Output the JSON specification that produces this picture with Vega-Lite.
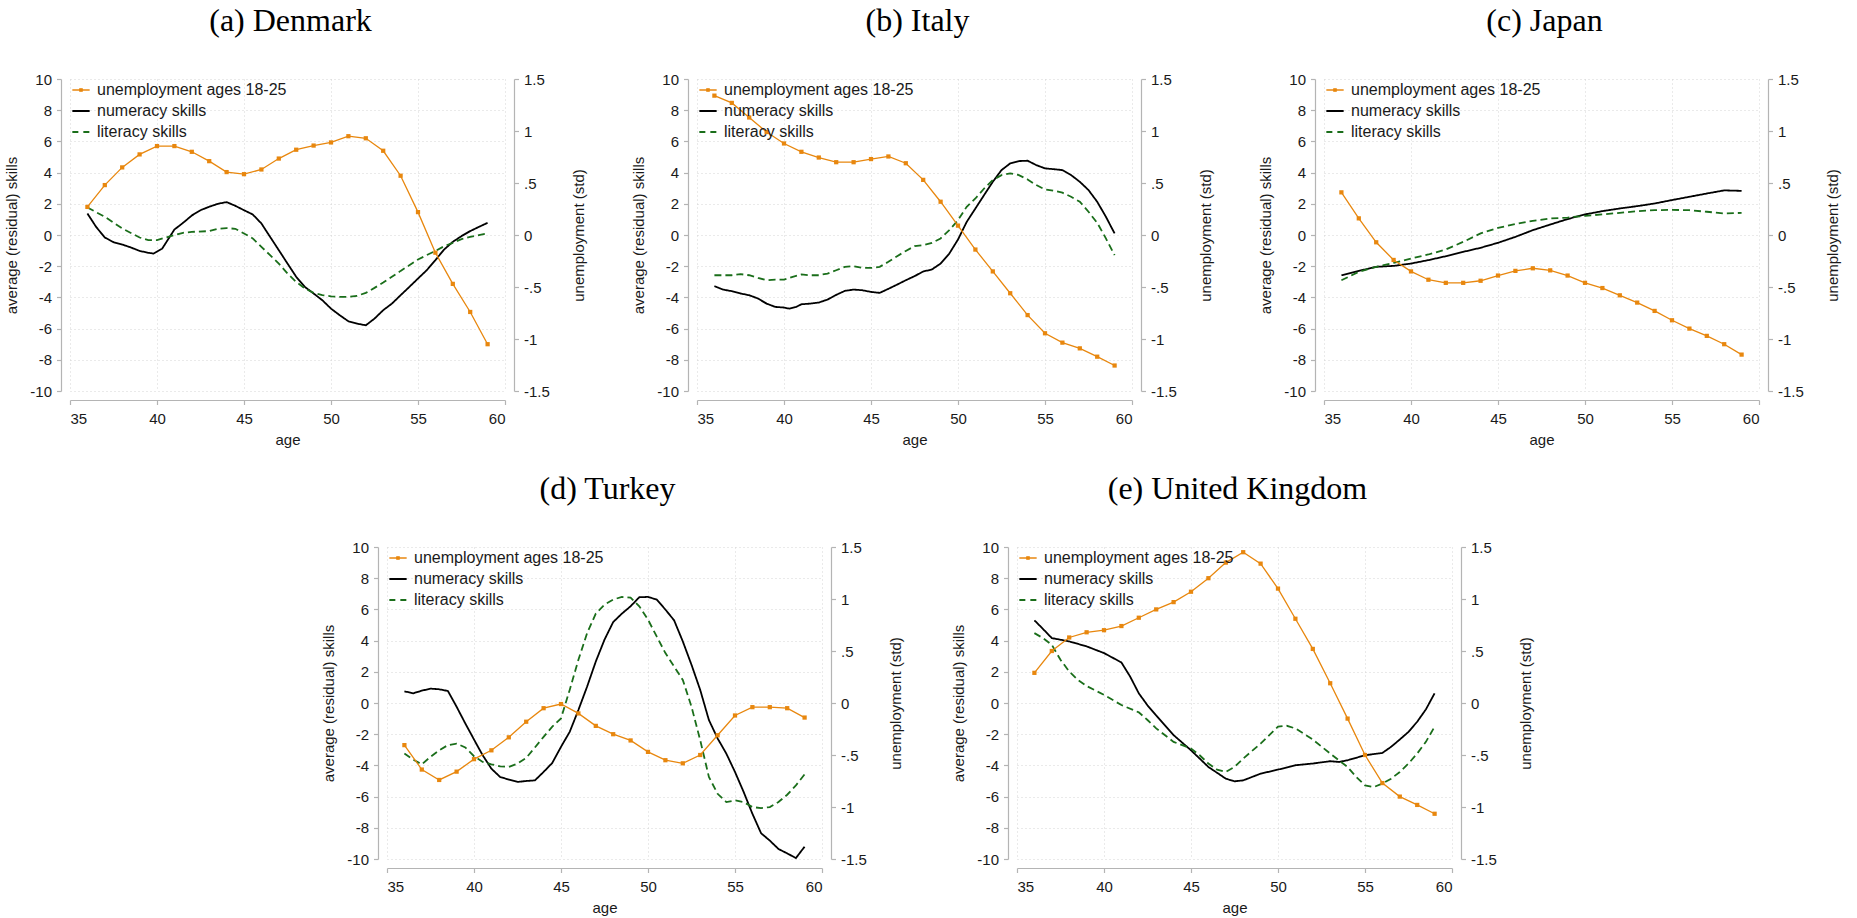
{
  "$schema": "https://vega.github.io/schema/vega-lite/v6.json",
  "padding": {"left": 4, "top": 5, "right": 5, "bottom": 0},
  "background": "white",
  "config": {
    "font": "Liberation Sans",
    "view": {"stroke": null},
    "axis": {"domainColor": "#b4b4b4", "domainWidth": 1.2, "tickColor": "#b4b4b4", "tickSize": 4.5, "tickWidth": 1.2, "labelFontSize": 15, "labelColor": "#1a1a1a", "titleFontSize": 15, "titleFontWeight": "normal", "titleColor": "#1a1a1a", "gridColor": "#d4d4d4", "gridDash": [1, 3], "gridWidth": 1, "labelPadding": 5, "titlePadding": 10},
    "axisX": {"labelPadding": 7, "titlePadding": 6},
    "axisRight": {"titlePadding": 22},
    "legend": {"orient": "top-left", "offset": 0, "padding": 3, "labelFontSize": 16, "labelColor": "#1a1a1a", "labelLimit": 0, "symbolSize": 300, "symbolStrokeWidth": 1.8, "rowPadding": 5, "labelOffset": 8, "symbolType": "stroke"},
    "title": {"font": "Liberation Serif", "fontSize": 32, "fontWeight": "normal", "color": "#000000", "anchor": "middle", "frame": "group", "offset": 34, "baseline": "alphabetic", "dx": 3}
  },
  "datasets": {
    "unemp": [
      {"c":"DK","a":36,"u":0.27},{"c":"DK","a":37,"u":0.48},{"c":"DK","a":38,"u":0.65},{"c":"DK","a":39,"u":0.775},{"c":"DK","a":40,"u":0.855},{"c":"DK","a":41,"u":0.855},{"c":"DK","a":42,"u":0.80},{"c":"DK","a":43,"u":0.71},{"c":"DK","a":44,"u":0.605},{"c":"DK","a":45,"u":0.585},{"c":"DK","a":46,"u":0.63},{"c":"DK","a":47,"u":0.735},{"c":"DK","a":48,"u":0.82},{"c":"DK","a":49,"u":0.86},{"c":"DK","a":50,"u":0.89},{"c":"DK","a":51,"u":0.95},{"c":"DK","a":52,"u":0.93},{"c":"DK","a":53,"u":0.81},{"c":"DK","a":54,"u":0.57},{"c":"DK","a":55,"u":0.22},{"c":"DK","a":56,"u":-0.17},{"c":"DK","a":57,"u":-0.47},{"c":"DK","a":58,"u":-0.74},{"c":"DK","a":59,"u":-1.05},
      {"c":"IT","a":36,"u":1.34},{"c":"IT","a":37,"u":1.27},{"c":"IT","a":38,"u":1.13},{"c":"IT","a":39,"u":0.99},{"c":"IT","a":40,"u":0.88},{"c":"IT","a":41,"u":0.80},{"c":"IT","a":42,"u":0.745},{"c":"IT","a":43,"u":0.70},{"c":"IT","a":44,"u":0.70},{"c":"IT","a":45,"u":0.73},{"c":"IT","a":46,"u":0.755},{"c":"IT","a":47,"u":0.69},{"c":"IT","a":48,"u":0.53},{"c":"IT","a":49,"u":0.32},{"c":"IT","a":50,"u":0.09},{"c":"IT","a":51,"u":-0.14},{"c":"IT","a":52,"u":-0.35},{"c":"IT","a":53,"u":-0.56},{"c":"IT","a":54,"u":-0.77},{"c":"IT","a":55,"u":-0.945},{"c":"IT","a":56,"u":-1.035},{"c":"IT","a":57,"u":-1.09},{"c":"IT","a":58,"u":-1.17},{"c":"IT","a":59,"u":-1.255},
      {"c":"JP","a":36,"u":0.41},{"c":"JP","a":37,"u":0.16},{"c":"JP","a":38,"u":-0.07},{"c":"JP","a":39,"u":-0.24},{"c":"JP","a":40,"u":-0.35},{"c":"JP","a":41,"u":-0.43},{"c":"JP","a":42,"u":-0.46},{"c":"JP","a":43,"u":-0.46},{"c":"JP","a":44,"u":-0.44},{"c":"JP","a":45,"u":-0.39},{"c":"JP","a":46,"u":-0.345},{"c":"JP","a":47,"u":-0.32},{"c":"JP","a":48,"u":-0.34},{"c":"JP","a":49,"u":-0.39},{"c":"JP","a":50,"u":-0.46},{"c":"JP","a":51,"u":-0.51},{"c":"JP","a":52,"u":-0.58},{"c":"JP","a":53,"u":-0.65},{"c":"JP","a":54,"u":-0.73},{"c":"JP","a":55,"u":-0.82},{"c":"JP","a":56,"u":-0.90},{"c":"JP","a":57,"u":-0.97},{"c":"JP","a":58,"u":-1.05},{"c":"JP","a":59,"u":-1.15},
      {"c":"TR","a":36,"u":-0.405},{"c":"TR","a":37,"u":-0.64},{"c":"TR","a":38,"u":-0.74},{"c":"TR","a":39,"u":-0.66},{"c":"TR","a":40,"u":-0.54},{"c":"TR","a":41,"u":-0.455},{"c":"TR","a":42,"u":-0.33},{"c":"TR","a":43,"u":-0.18},{"c":"TR","a":44,"u":-0.05},{"c":"TR","a":45,"u":-0.01},{"c":"TR","a":46,"u":-0.10},{"c":"TR","a":47,"u":-0.22},{"c":"TR","a":48,"u":-0.30},{"c":"TR","a":49,"u":-0.36},{"c":"TR","a":50,"u":-0.47},{"c":"TR","a":51,"u":-0.55},{"c":"TR","a":52,"u":-0.58},{"c":"TR","a":53,"u":-0.50},{"c":"TR","a":54,"u":-0.31},{"c":"TR","a":55,"u":-0.12},{"c":"TR","a":56,"u":-0.04},{"c":"TR","a":57,"u":-0.04},{"c":"TR","a":58,"u":-0.05},{"c":"TR","a":59,"u":-0.14},
      {"c":"UK","a":36,"u":0.29},{"c":"UK","a":37,"u":0.50},{"c":"UK","a":38,"u":0.63},{"c":"UK","a":39,"u":0.68},{"c":"UK","a":40,"u":0.70},{"c":"UK","a":41,"u":0.74},{"c":"UK","a":42,"u":0.82},{"c":"UK","a":43,"u":0.90},{"c":"UK","a":44,"u":0.97},{"c":"UK","a":45,"u":1.07},{"c":"UK","a":46,"u":1.20},{"c":"UK","a":47,"u":1.35},{"c":"UK","a":48,"u":1.45},{"c":"UK","a":49,"u":1.34},{"c":"UK","a":50,"u":1.10},{"c":"UK","a":51,"u":0.81},{"c":"UK","a":52,"u":0.52},{"c":"UK","a":53,"u":0.19},{"c":"UK","a":54,"u":-0.15},{"c":"UK","a":55,"u":-0.50},{"c":"UK","a":56,"u":-0.77},{"c":"UK","a":57,"u":-0.90},{"c":"UK","a":58,"u":-0.98},{"c":"UK","a":59,"u":-1.065}
    ],
    "skills": [
      {"c":"DK","s":"n","a":36,"v":1.38},{"c":"DK","s":"n","a":36.5,"v":0.52},{"c":"DK","s":"n","a":37,"v":-0.16},{"c":"DK","s":"n","a":37.5,"v":-0.46},{"c":"DK","s":"n","a":38,"v":-0.61},{"c":"DK","s":"n","a":38.5,"v":-0.8},{"c":"DK","s":"n","a":39,"v":-1.02},{"c":"DK","s":"n","a":39.5,"v":-1.14},{"c":"DK","s":"n","a":39.8,"v":-1.19},{"c":"DK","s":"n","a":40.3,"v":-0.87},{"c":"DK","s":"n","a":41,"v":0.35},{"c":"DK","s":"n","a":41.5,"v":0.78},{"c":"DK","s":"n","a":42,"v":1.25},{"c":"DK","s":"n","a":42.5,"v":1.59},{"c":"DK","s":"n","a":43,"v":1.81},{"c":"DK","s":"n","a":43.5,"v":2.0},{"c":"DK","s":"n","a":44,"v":2.11},{"c":"DK","s":"n","a":44.5,"v":1.87},{"c":"DK","s":"n","a":45,"v":1.59},{"c":"DK","s":"n","a":45.5,"v":1.32},{"c":"DK","s":"n","a":46,"v":0.74},{"c":"DK","s":"n","a":46.5,"v":-0.12},{"c":"DK","s":"n","a":47,"v":-0.97},{"c":"DK","s":"n","a":47.5,"v":-1.83},{"c":"DK","s":"n","a":48,"v":-2.68},{"c":"DK","s":"n","a":48.5,"v":-3.33},{"c":"DK","s":"n","a":49,"v":-3.75},{"c":"DK","s":"n","a":49.5,"v":-4.18},{"c":"DK","s":"n","a":50,"v":-4.72},{"c":"DK","s":"n","a":50.5,"v":-5.14},{"c":"DK","s":"n","a":51,"v":-5.53},{"c":"DK","s":"n","a":51.5,"v":-5.68},{"c":"DK","s":"n","a":52,"v":-5.79},{"c":"DK","s":"n","a":52.5,"v":-5.36},{"c":"DK","s":"n","a":53,"v":-4.82},{"c":"DK","s":"n","a":53.5,"v":-4.4},{"c":"DK","s":"n","a":54,"v":-3.86},{"c":"DK","s":"n","a":54.5,"v":-3.33},{"c":"DK","s":"n","a":55,"v":-2.79},{"c":"DK","s":"n","a":55.5,"v":-2.26},{"c":"DK","s":"n","a":56,"v":-1.61},{"c":"DK","s":"n","a":56.5,"v":-0.93},{"c":"DK","s":"n","a":57,"v":-0.44},{"c":"DK","s":"n","a":57.5,"v":-0.07},{"c":"DK","s":"n","a":58,"v":0.25},{"c":"DK","s":"n","a":58.5,"v":0.52},{"c":"DK","s":"n","a":59,"v":0.78},
      {"c":"DK","s":"l","a":36,"v":1.76},{"c":"DK","s":"l","a":37,"v":1.17},{"c":"DK","s":"l","a":38,"v":0.42},{"c":"DK","s":"l","a":39,"v":-0.16},{"c":"DK","s":"l","a":39.5,"v":-0.33},{"c":"DK","s":"l","a":40,"v":-0.33},{"c":"DK","s":"l","a":40.5,"v":-0.16},{"c":"DK","s":"l","a":41,"v":-0.01},{"c":"DK","s":"l","a":41.5,"v":0.14},{"c":"DK","s":"l","a":42,"v":0.2},{"c":"DK","s":"l","a":43,"v":0.25},{"c":"DK","s":"l","a":43.5,"v":0.4},{"c":"DK","s":"l","a":44,"v":0.44},{"c":"DK","s":"l","a":44.5,"v":0.4},{"c":"DK","s":"l","a":45,"v":0.1},{"c":"DK","s":"l","a":45.5,"v":-0.22},{"c":"DK","s":"l","a":46,"v":-0.76},{"c":"DK","s":"l","a":46.5,"v":-1.29},{"c":"DK","s":"l","a":47,"v":-1.83},{"c":"DK","s":"l","a":47.5,"v":-2.47},{"c":"DK","s":"l","a":48,"v":-3.01},{"c":"DK","s":"l","a":48.5,"v":-3.43},{"c":"DK","s":"l","a":49,"v":-3.71},{"c":"DK","s":"l","a":49.5,"v":-3.86},{"c":"DK","s":"l","a":50,"v":-3.93},{"c":"DK","s":"l","a":50.5,"v":-3.97},{"c":"DK","s":"l","a":51,"v":-3.97},{"c":"DK","s":"l","a":51.5,"v":-3.9},{"c":"DK","s":"l","a":52,"v":-3.71},{"c":"DK","s":"l","a":52.5,"v":-3.39},{"c":"DK","s":"l","a":53,"v":-3.05},{"c":"DK","s":"l","a":53.5,"v":-2.68},{"c":"DK","s":"l","a":54,"v":-2.3},{"c":"DK","s":"l","a":54.5,"v":-1.94},{"c":"DK","s":"l","a":55,"v":-1.57},{"c":"DK","s":"l","a":55.5,"v":-1.29},{"c":"DK","s":"l","a":56,"v":-1.02},{"c":"DK","s":"l","a":56.5,"v":-0.72},{"c":"DK","s":"l","a":57,"v":-0.5},{"c":"DK","s":"l","a":57.5,"v":-0.27},{"c":"DK","s":"l","a":58,"v":-0.12},{"c":"DK","s":"l","a":58.5,"v":-0.01},{"c":"DK","s":"l","a":59,"v":0.1},
      {"c":"IT","s":"n","a":36,"v":-3.28},{"c":"IT","s":"n","a":36.5,"v":-3.5},{"c":"IT","s":"n","a":37,"v":-3.6},{"c":"IT","s":"n","a":37.5,"v":-3.75},{"c":"IT","s":"n","a":38,"v":-3.86},{"c":"IT","s":"n","a":38.5,"v":-4.07},{"c":"IT","s":"n","a":39,"v":-4.4},{"c":"IT","s":"n","a":39.5,"v":-4.61},{"c":"IT","s":"n","a":40,"v":-4.65},{"c":"IT","s":"n","a":40.3,"v":-4.72},{"c":"IT","s":"n","a":40.7,"v":-4.61},{"c":"IT","s":"n","a":41,"v":-4.44},{"c":"IT","s":"n","a":41.5,"v":-4.4},{"c":"IT","s":"n","a":42,"v":-4.33},{"c":"IT","s":"n","a":42.5,"v":-4.14},{"c":"IT","s":"n","a":43,"v":-3.84},{"c":"IT","s":"n","a":43.5,"v":-3.58},{"c":"IT","s":"n","a":44,"v":-3.5},{"c":"IT","s":"n","a":44.5,"v":-3.54},{"c":"IT","s":"n","a":45,"v":-3.65},{"c":"IT","s":"n","a":45.5,"v":-3.71},{"c":"IT","s":"n","a":46,"v":-3.45},{"c":"IT","s":"n","a":46.5,"v":-3.18},{"c":"IT","s":"n","a":47,"v":-2.9},{"c":"IT","s":"n","a":47.5,"v":-2.64},{"c":"IT","s":"n","a":48,"v":-2.34},{"c":"IT","s":"n","a":48.5,"v":-2.21},{"c":"IT","s":"n","a":49,"v":-1.83},{"c":"IT","s":"n","a":49.5,"v":-1.19},{"c":"IT","s":"n","a":50,"v":-0.29},{"c":"IT","s":"n","a":50.5,"v":0.84},{"c":"IT","s":"n","a":51,"v":1.7},{"c":"IT","s":"n","a":51.5,"v":2.56},{"c":"IT","s":"n","a":52,"v":3.41},{"c":"IT","s":"n","a":52.5,"v":4.16},{"c":"IT","s":"n","a":53,"v":4.59},{"c":"IT","s":"n","a":53.5,"v":4.74},{"c":"IT","s":"n","a":54,"v":4.76},{"c":"IT","s":"n","a":54.5,"v":4.48},{"c":"IT","s":"n","a":55,"v":4.27},{"c":"IT","s":"n","a":55.5,"v":4.22},{"c":"IT","s":"n","a":56,"v":4.16},{"c":"IT","s":"n","a":56.5,"v":3.84},{"c":"IT","s":"n","a":57,"v":3.41},{"c":"IT","s":"n","a":57.5,"v":2.88},{"c":"IT","s":"n","a":58,"v":2.13},{"c":"IT","s":"n","a":58.5,"v":1.17},{"c":"IT","s":"n","a":59,"v":0.1},
      {"c":"IT","s":"l","a":36,"v":-2.58},{"c":"IT","s":"l","a":37,"v":-2.58},{"c":"IT","s":"l","a":37.5,"v":-2.51},{"c":"IT","s":"l","a":38,"v":-2.58},{"c":"IT","s":"l","a":38.5,"v":-2.75},{"c":"IT","s":"l","a":39,"v":-2.9},{"c":"IT","s":"l","a":39.5,"v":-2.86},{"c":"IT","s":"l","a":40,"v":-2.86},{"c":"IT","s":"l","a":40.5,"v":-2.68},{"c":"IT","s":"l","a":41,"v":-2.53},{"c":"IT","s":"l","a":41.5,"v":-2.58},{"c":"IT","s":"l","a":42,"v":-2.58},{"c":"IT","s":"l","a":42.5,"v":-2.47},{"c":"IT","s":"l","a":43,"v":-2.26},{"c":"IT","s":"l","a":43.5,"v":-2.04},{"c":"IT","s":"l","a":44,"v":-2.0},{"c":"IT","s":"l","a":44.5,"v":-2.11},{"c":"IT","s":"l","a":45,"v":-2.11},{"c":"IT","s":"l","a":45.5,"v":-2.04},{"c":"IT","s":"l","a":46,"v":-1.72},{"c":"IT","s":"l","a":46.5,"v":-1.36},{"c":"IT","s":"l","a":47,"v":-1.02},{"c":"IT","s":"l","a":47.5,"v":-0.72},{"c":"IT","s":"l","a":48,"v":-0.65},{"c":"IT","s":"l","a":48.5,"v":-0.5},{"c":"IT","s":"l","a":49,"v":-0.22},{"c":"IT","s":"l","a":49.5,"v":0.31},{"c":"IT","s":"l","a":50,"v":0.95},{"c":"IT","s":"l","a":50.5,"v":1.81},{"c":"IT","s":"l","a":51,"v":2.34},{"c":"IT","s":"l","a":51.5,"v":2.98},{"c":"IT","s":"l","a":52,"v":3.52},{"c":"IT","s":"l","a":52.5,"v":3.84},{"c":"IT","s":"l","a":53,"v":3.95},{"c":"IT","s":"l","a":53.5,"v":3.84},{"c":"IT","s":"l","a":54,"v":3.56},{"c":"IT","s":"l","a":54.5,"v":3.2},{"c":"IT","s":"l","a":55,"v":2.92},{"c":"IT","s":"l","a":55.5,"v":2.84},{"c":"IT","s":"l","a":56,"v":2.71},{"c":"IT","s":"l","a":56.5,"v":2.45},{"c":"IT","s":"l","a":57,"v":2.13},{"c":"IT","s":"l","a":57.5,"v":1.49},{"c":"IT","s":"l","a":58,"v":0.78},{"c":"IT","s":"l","a":58.5,"v":-0.22},{"c":"IT","s":"l","a":59,"v":-1.29},
      {"c":"JP","s":"n","a":36,"v":-2.58},{"c":"JP","s":"n","a":37,"v":-2.3},{"c":"JP","s":"n","a":38,"v":-2.04},{"c":"JP","s":"n","a":39,"v":-1.98},{"c":"JP","s":"n","a":40,"v":-1.83},{"c":"JP","s":"n","a":41,"v":-1.61},{"c":"JP","s":"n","a":42,"v":-1.36},{"c":"JP","s":"n","a":43,"v":-1.08},{"c":"JP","s":"n","a":44,"v":-0.82},{"c":"JP","s":"n","a":45,"v":-0.5},{"c":"JP","s":"n","a":46,"v":-0.12},{"c":"JP","s":"n","a":47,"v":0.31},{"c":"JP","s":"n","a":48,"v":0.67},{"c":"JP","s":"n","a":49,"v":1.02},{"c":"JP","s":"n","a":50,"v":1.32},{"c":"JP","s":"n","a":51,"v":1.53},{"c":"JP","s":"n","a":52,"v":1.7},{"c":"JP","s":"n","a":53,"v":1.85},{"c":"JP","s":"n","a":54,"v":2.02},{"c":"JP","s":"n","a":55,"v":2.24},{"c":"JP","s":"n","a":56,"v":2.45},{"c":"JP","s":"n","a":57,"v":2.66},{"c":"JP","s":"n","a":58,"v":2.86},{"c":"JP","s":"n","a":59,"v":2.83},
      {"c":"JP","s":"l","a":36,"v":-2.9},{"c":"JP","s":"l","a":37,"v":-2.36},{"c":"JP","s":"l","a":38,"v":-2.04},{"c":"JP","s":"l","a":39,"v":-1.79},{"c":"JP","s":"l","a":40,"v":-1.51},{"c":"JP","s":"l","a":41,"v":-1.25},{"c":"JP","s":"l","a":42,"v":-0.93},{"c":"JP","s":"l","a":43,"v":-0.44},{"c":"JP","s":"l","a":44,"v":0.1},{"c":"JP","s":"l","a":45,"v":0.46},{"c":"JP","s":"l","a":46,"v":0.7},{"c":"JP","s":"l","a":47,"v":0.91},{"c":"JP","s":"l","a":48,"v":1.06},{"c":"JP","s":"l","a":49,"v":1.12},{"c":"JP","s":"l","a":50,"v":1.23},{"c":"JP","s":"l","a":51,"v":1.32},{"c":"JP","s":"l","a":52,"v":1.42},{"c":"JP","s":"l","a":53,"v":1.53},{"c":"JP","s":"l","a":54,"v":1.59},{"c":"JP","s":"l","a":55,"v":1.61},{"c":"JP","s":"l","a":56,"v":1.59},{"c":"JP","s":"l","a":57,"v":1.49},{"c":"JP","s":"l","a":58,"v":1.38},{"c":"JP","s":"l","a":59,"v":1.42},
      {"c":"TR","s":"n","a":36,"v":0.75},{"c":"TR","s":"n","a":36.5,"v":0.62},{"c":"TR","s":"n","a":37,"v":0.79},{"c":"TR","s":"n","a":37.5,"v":0.92},{"c":"TR","s":"n","a":38,"v":0.88},{"c":"TR","s":"n","a":38.5,"v":0.77},{"c":"TR","s":"n","a":39,"v":-0.24},{"c":"TR","s":"n","a":39.5,"v":-1.31},{"c":"TR","s":"n","a":40,"v":-2.34},{"c":"TR","s":"n","a":40.5,"v":-3.35},{"c":"TR","s":"n","a":41,"v":-4.21},{"c":"TR","s":"n","a":41.5,"v":-4.74},{"c":"TR","s":"n","a":42,"v":-4.91},{"c":"TR","s":"n","a":42.5,"v":-5.06},{"c":"TR","s":"n","a":43,"v":-5.0},{"c":"TR","s":"n","a":43.5,"v":-4.96},{"c":"TR","s":"n","a":44,"v":-4.42},{"c":"TR","s":"n","a":44.5,"v":-3.84},{"c":"TR","s":"n","a":45,"v":-2.81},{"c":"TR","s":"n","a":45.5,"v":-1.85},{"c":"TR","s":"n","a":46,"v":-0.45},{"c":"TR","s":"n","a":46.5,"v":1.05},{"c":"TR","s":"n","a":47,"v":2.66},{"c":"TR","s":"n","a":47.5,"v":4.06},{"c":"TR","s":"n","a":48,"v":5.19},{"c":"TR","s":"n","a":48.5,"v":5.73},{"c":"TR","s":"n","a":49,"v":6.2},{"c":"TR","s":"n","a":49.5,"v":6.78},{"c":"TR","s":"n","a":50,"v":6.8},{"c":"TR","s":"n","a":50.5,"v":6.63},{"c":"TR","s":"n","a":51,"v":5.99},{"c":"TR","s":"n","a":51.5,"v":5.3},{"c":"TR","s":"n","a":52,"v":3.95},{"c":"TR","s":"n","a":52.5,"v":2.45},{"c":"TR","s":"n","a":53,"v":0.84},{"c":"TR","s":"n","a":53.5,"v":-1.09},{"c":"TR","s":"n","a":54,"v":-2.27},{"c":"TR","s":"n","a":54.5,"v":-3.24},{"c":"TR","s":"n","a":55,"v":-4.42},{"c":"TR","s":"n","a":55.5,"v":-5.71},{"c":"TR","s":"n","a":56,"v":-7.1},{"c":"TR","s":"n","a":56.5,"v":-8.35},{"c":"TR","s":"n","a":57,"v":-8.82},{"c":"TR","s":"n","a":57.5,"v":-9.36},{"c":"TR","s":"n","a":58,"v":-9.64},{"c":"TR","s":"n","a":58.5,"v":-9.94},{"c":"TR","s":"n","a":59,"v":-9.21},
      {"c":"TR","s":"l","a":36,"v":-3.24},{"c":"TR","s":"l","a":36.5,"v":-3.63},{"c":"TR","s":"l","a":37,"v":-3.93},{"c":"TR","s":"l","a":37.5,"v":-3.45},{"c":"TR","s":"l","a":38,"v":-3.03},{"c":"TR","s":"l","a":38.5,"v":-2.7},{"c":"TR","s":"l","a":39,"v":-2.6},{"c":"TR","s":"l","a":39.5,"v":-2.85},{"c":"TR","s":"l","a":40,"v":-3.41},{"c":"TR","s":"l","a":40.5,"v":-3.78},{"c":"TR","s":"l","a":41,"v":-3.93},{"c":"TR","s":"l","a":41.5,"v":-4.06},{"c":"TR","s":"l","a":42,"v":-4.1},{"c":"TR","s":"l","a":42.5,"v":-3.88},{"c":"TR","s":"l","a":43,"v":-3.52},{"c":"TR","s":"l","a":43.5,"v":-2.85},{"c":"TR","s":"l","a":44,"v":-2.17},{"c":"TR","s":"l","a":44.5,"v":-1.52},{"c":"TR","s":"l","a":45,"v":-0.99},{"c":"TR","s":"l","a":45.5,"v":0.84},{"c":"TR","s":"l","a":46,"v":2.77},{"c":"TR","s":"l","a":46.5,"v":4.48},{"c":"TR","s":"l","a":47,"v":5.73},{"c":"TR","s":"l","a":47.5,"v":6.31},{"c":"TR","s":"l","a":48,"v":6.63},{"c":"TR","s":"l","a":48.5,"v":6.8},{"c":"TR","s":"l","a":49,"v":6.76},{"c":"TR","s":"l","a":49.5,"v":6.2},{"c":"TR","s":"l","a":50,"v":5.34},{"c":"TR","s":"l","a":50.5,"v":4.27},{"c":"TR","s":"l","a":51,"v":3.2},{"c":"TR","s":"l","a":51.5,"v":2.34},{"c":"TR","s":"l","a":52,"v":1.48},{"c":"TR","s":"l","a":52.5,"v":-0.24},{"c":"TR","s":"l","a":53,"v":-2.38},{"c":"TR","s":"l","a":53.5,"v":-4.74},{"c":"TR","s":"l","a":54,"v":-5.82},{"c":"TR","s":"l","a":54.5,"v":-6.35},{"c":"TR","s":"l","a":55,"v":-6.24},{"c":"TR","s":"l","a":55.5,"v":-6.35},{"c":"TR","s":"l","a":56,"v":-6.67},{"c":"TR","s":"l","a":56.5,"v":-6.74},{"c":"TR","s":"l","a":57,"v":-6.67},{"c":"TR","s":"l","a":57.5,"v":-6.35},{"c":"TR","s":"l","a":58,"v":-5.88},{"c":"TR","s":"l","a":58.5,"v":-5.28},{"c":"TR","s":"l","a":59,"v":-4.57},
      {"c":"UK","s":"n","a":36,"v":5.3},{"c":"UK","s":"n","a":36.5,"v":4.74},{"c":"UK","s":"n","a":37,"v":4.16},{"c":"UK","s":"n","a":38,"v":3.95},{"c":"UK","s":"n","a":39,"v":3.63},{"c":"UK","s":"n","a":40,"v":3.2},{"c":"UK","s":"n","a":41,"v":2.6},{"c":"UK","s":"n","a":41.5,"v":1.7},{"c":"UK","s":"n","a":42,"v":0.62},{"c":"UK","s":"n","a":42.5,"v":-0.15},{"c":"UK","s":"n","a":43,"v":-0.8},{"c":"UK","s":"n","a":44,"v":-2.06},{"c":"UK","s":"n","a":45,"v":-3.03},{"c":"UK","s":"n","a":46,"v":-4.1},{"c":"UK","s":"n","a":47,"v":-4.85},{"c":"UK","s":"n","a":47.5,"v":-5.02},{"c":"UK","s":"n","a":48,"v":-4.96},{"c":"UK","s":"n","a":49,"v":-4.53},{"c":"UK","s":"n","a":50,"v":-4.27},{"c":"UK","s":"n","a":51,"v":-3.99},{"c":"UK","s":"n","a":52,"v":-3.88},{"c":"UK","s":"n","a":53,"v":-3.73},{"c":"UK","s":"n","a":53.5,"v":-3.78},{"c":"UK","s":"n","a":54,"v":-3.67},{"c":"UK","s":"n","a":55,"v":-3.35},{"c":"UK","s":"n","a":56,"v":-3.2},{"c":"UK","s":"n","a":56.5,"v":-2.81},{"c":"UK","s":"n","a":57,"v":-2.34},{"c":"UK","s":"n","a":57.5,"v":-1.85},{"c":"UK","s":"n","a":58,"v":-1.2},{"c":"UK","s":"n","a":58.5,"v":-0.41},{"c":"UK","s":"n","a":59,"v":0.62},
      {"c":"UK","s":"l","a":36,"v":4.48},{"c":"UK","s":"l","a":36.5,"v":4.16},{"c":"UK","s":"l","a":37,"v":3.73},{"c":"UK","s":"l","a":37.5,"v":2.77},{"c":"UK","s":"l","a":38,"v":2.02},{"c":"UK","s":"l","a":38.5,"v":1.48},{"c":"UK","s":"l","a":39,"v":1.09},{"c":"UK","s":"l","a":40,"v":0.52},{"c":"UK","s":"l","a":41,"v":-0.13},{"c":"UK","s":"l","a":42,"v":-0.6},{"c":"UK","s":"l","a":42.5,"v":-1.09},{"c":"UK","s":"l","a":43,"v":-1.63},{"c":"UK","s":"l","a":44,"v":-2.49},{"c":"UK","s":"l","a":45,"v":-2.92},{"c":"UK","s":"l","a":45.5,"v":-3.35},{"c":"UK","s":"l","a":46,"v":-3.88},{"c":"UK","s":"l","a":46.5,"v":-4.27},{"c":"UK","s":"l","a":47,"v":-4.42},{"c":"UK","s":"l","a":47.5,"v":-4.1},{"c":"UK","s":"l","a":48,"v":-3.56},{"c":"UK","s":"l","a":49,"v":-2.6},{"c":"UK","s":"l","a":49.5,"v":-2.06},{"c":"UK","s":"l","a":50,"v":-1.52},{"c":"UK","s":"l","a":50.5,"v":-1.46},{"c":"UK","s":"l","a":51,"v":-1.63},{"c":"UK","s":"l","a":52,"v":-2.34},{"c":"UK","s":"l","a":53,"v":-3.24},{"c":"UK","s":"l","a":54,"v":-4.1},{"c":"UK","s":"l","a":54.5,"v":-4.74},{"c":"UK","s":"l","a":55,"v":-5.28},{"c":"UK","s":"l","a":55.5,"v":-5.39},{"c":"UK","s":"l","a":56,"v":-5.17},{"c":"UK","s":"l","a":56.5,"v":-4.85},{"c":"UK","s":"l","a":57,"v":-4.42},{"c":"UK","s":"l","a":57.5,"v":-3.88},{"c":"UK","s":"l","a":58,"v":-3.24},{"c":"UK","s":"l","a":58.5,"v":-2.49},{"c":"UK","s":"l","a":59,"v":-1.52}
    ]
  },
  "spacing": 25,
  "resolve": {"scale": {"color": "independent", "strokeDash": "independent"}, "legend": {"color": "independent", "strokeDash": "independent"}},
  "vconcat": [
    {
      "hconcat": [
        {
          "width": 435, "height": 312,
          "title": {"text": "(a) Denmark"},
          "layer": [
            {"data": {"name": "skills"}, "transform": [{"filter": "datum.c === 'DK'"}],
             "mark": {"type": "line", "strokeWidth": 1.8},
             "encoding": {
               "x": {"field": "a", "type": "quantitative", "scale": {"domain": [35, 60], "nice": false, "zero": false}, "axis": {"title": "age", "values": [35, 40, 45, 50, 55, 60], "grid": true, "offset": 9}},
               "y": {"field": "v", "type": "quantitative", "scale": {"domain": [-10, 10], "nice": false, "zero": false}, "axis": {"title": "average (residual) skills", "values": [-10, -8, -6, -4, -2, 0, 2, 4, 6, 8, 10], "grid": true, "offset": 9, "labelExpr": "datum.value < 0 ? '-' + format(-datum.value, '') : format(datum.value, '')"}},
               "color": {"field": "s", "type": "nominal", "scale": {"domain": ["u", "n", "l"], "range": ["#E8870E", "#000000", "#1A6E1A"]}, "legend": {"title": null, "labelExpr": "datum.value === 'u' ? 'unemployment ages 18-25' : datum.value === 'n' ? 'numeracy skills' : 'literacy skills'", "encode": {"symbols": {"update": {"shape": {"signal": "datum.value === 'u' ? 'M-1,0H1M-0.13,-0.13H0.13V0.13H-0.13Z' : 'stroke'"}, "fill": {"signal": "datum.value === 'u' ? '#E8870E' : 'transparent'"}, "strokeDash": {"signal": "datum.value === 'l' ? [6, 5] : [1, 0]"}, "strokeWidth": {"signal": "datum.value === 'u' ? 1.4 : 1.8"}}}}}},
               "strokeDash": {"field": "s", "type": "nominal", "scale": {"domain": ["n", "l"], "range": [[1, 0], [7, 4]]}, "legend": null}
             }},
            {"data": {"name": "unemp"}, "transform": [{"filter": "datum.c === 'DK'"}],
             "mark": {"type": "line", "strokeWidth": 1.3, "point": {"filled": true, "shape": "square", "size": 18}},
             "encoding": {
               "x": {"field": "a", "type": "quantitative"},
               "y": {"field": "u", "type": "quantitative", "scale": {"domain": [-1.5, 1.5], "nice": false, "zero": false}, "axis": {"orient": "right", "title": "unemployment (std)", "titleAngle": 270, "titleBaseline": "top", "values": [-1.5, -1, -0.5, 0, 0.5, 1, 1.5], "grid": false, "offset": 9, "labelExpr": "datum.value < 0 ? '-' + replace(format(-datum.value, ''), '0.', '.') : replace(format(datum.value, ''), '0.', '.')"}},
               "color": {"datum": "u"}
             }}
          ],
          "resolve": {"scale": {"y": "independent"}}
        },
        {
          "width": 435, "height": 312,
          "title": {"text": "(b) Italy"},
          "layer": [
            {"data": {"name": "skills"}, "transform": [{"filter": "datum.c === 'IT'"}],
             "mark": {"type": "line", "strokeWidth": 1.8},
             "encoding": {
               "x": {"field": "a", "type": "quantitative", "scale": {"domain": [35, 60], "nice": false, "zero": false}, "axis": {"title": "age", "values": [35, 40, 45, 50, 55, 60], "grid": true, "offset": 9}},
               "y": {"field": "v", "type": "quantitative", "scale": {"domain": [-10, 10], "nice": false, "zero": false}, "axis": {"title": "average (residual) skills", "values": [-10, -8, -6, -4, -2, 0, 2, 4, 6, 8, 10], "grid": true, "offset": 9, "labelExpr": "datum.value < 0 ? '-' + format(-datum.value, '') : format(datum.value, '')"}},
               "color": {"field": "s", "type": "nominal", "scale": {"domain": ["u", "n", "l"], "range": ["#E8870E", "#000000", "#1A6E1A"]}, "legend": {"title": null, "labelExpr": "datum.value === 'u' ? 'unemployment ages 18-25' : datum.value === 'n' ? 'numeracy skills' : 'literacy skills'", "encode": {"symbols": {"update": {"shape": {"signal": "datum.value === 'u' ? 'M-1,0H1M-0.13,-0.13H0.13V0.13H-0.13Z' : 'stroke'"}, "fill": {"signal": "datum.value === 'u' ? '#E8870E' : 'transparent'"}, "strokeDash": {"signal": "datum.value === 'l' ? [6, 5] : [1, 0]"}, "strokeWidth": {"signal": "datum.value === 'u' ? 1.4 : 1.8"}}}}}},
               "strokeDash": {"field": "s", "type": "nominal", "scale": {"domain": ["n", "l"], "range": [[1, 0], [7, 4]]}, "legend": null}
             }},
            {"data": {"name": "unemp"}, "transform": [{"filter": "datum.c === 'IT'"}],
             "mark": {"type": "line", "strokeWidth": 1.3, "point": {"filled": true, "shape": "square", "size": 18}},
             "encoding": {
               "x": {"field": "a", "type": "quantitative"},
               "y": {"field": "u", "type": "quantitative", "scale": {"domain": [-1.5, 1.5], "nice": false, "zero": false}, "axis": {"orient": "right", "title": "unemployment (std)", "titleAngle": 270, "titleBaseline": "top", "values": [-1.5, -1, -0.5, 0, 0.5, 1, 1.5], "grid": false, "offset": 9, "labelExpr": "datum.value < 0 ? '-' + replace(format(-datum.value, ''), '0.', '.') : replace(format(datum.value, ''), '0.', '.')"}},
               "color": {"datum": "u"}
             }}
          ],
          "resolve": {"scale": {"y": "independent"}}
        },
        {
          "width": 435, "height": 312,
          "title": {"text": "(c) Japan"},
          "layer": [
            {"data": {"name": "skills"}, "transform": [{"filter": "datum.c === 'JP'"}],
             "mark": {"type": "line", "strokeWidth": 1.8},
             "encoding": {
               "x": {"field": "a", "type": "quantitative", "scale": {"domain": [35, 60], "nice": false, "zero": false}, "axis": {"title": "age", "values": [35, 40, 45, 50, 55, 60], "grid": true, "offset": 9}},
               "y": {"field": "v", "type": "quantitative", "scale": {"domain": [-10, 10], "nice": false, "zero": false}, "axis": {"title": "average (residual) skills", "values": [-10, -8, -6, -4, -2, 0, 2, 4, 6, 8, 10], "grid": true, "offset": 9, "labelExpr": "datum.value < 0 ? '-' + format(-datum.value, '') : format(datum.value, '')"}},
               "color": {"field": "s", "type": "nominal", "scale": {"domain": ["u", "n", "l"], "range": ["#E8870E", "#000000", "#1A6E1A"]}, "legend": {"title": null, "labelExpr": "datum.value === 'u' ? 'unemployment ages 18-25' : datum.value === 'n' ? 'numeracy skills' : 'literacy skills'", "encode": {"symbols": {"update": {"shape": {"signal": "datum.value === 'u' ? 'M-1,0H1M-0.13,-0.13H0.13V0.13H-0.13Z' : 'stroke'"}, "fill": {"signal": "datum.value === 'u' ? '#E8870E' : 'transparent'"}, "strokeDash": {"signal": "datum.value === 'l' ? [6, 5] : [1, 0]"}, "strokeWidth": {"signal": "datum.value === 'u' ? 1.4 : 1.8"}}}}}},
               "strokeDash": {"field": "s", "type": "nominal", "scale": {"domain": ["n", "l"], "range": [[1, 0], [7, 4]]}, "legend": null}
             }},
            {"data": {"name": "unemp"}, "transform": [{"filter": "datum.c === 'JP'"}],
             "mark": {"type": "line", "strokeWidth": 1.3, "point": {"filled": true, "shape": "square", "size": 18}},
             "encoding": {
               "x": {"field": "a", "type": "quantitative"},
               "y": {"field": "u", "type": "quantitative", "scale": {"domain": [-1.5, 1.5], "nice": false, "zero": false}, "axis": {"orient": "right", "title": "unemployment (std)", "titleAngle": 270, "titleBaseline": "top", "values": [-1.5, -1, -0.5, 0, 0.5, 1, 1.5], "grid": false, "offset": 9, "labelExpr": "datum.value < 0 ? '-' + replace(format(-datum.value, ''), '0.', '.') : replace(format(datum.value, ''), '0.', '.')"}},
               "color": {"datum": "u"}
             }}
          ],
          "resolve": {"scale": {"y": "independent"}}
        }
      ],
      "spacing": 192,
      "bounds": "flush",
      "resolve": {"scale": {"color": "independent", "strokeDash": "independent"}, "legend": {"color": "independent", "strokeDash": "independent"}}
    },
    {
      "hconcat": [
        {"width": 122, "height": 312, "data": {"values": [{"k": 0}]}, "mark": {"type": "point", "opacity": 0}, "encoding": {}},
        {
          "width": 435, "height": 312,
          "title": {"text": "(d) Turkey"},
          "layer": [
            {"data": {"name": "skills"}, "transform": [{"filter": "datum.c === 'TR'"}],
             "mark": {"type": "line", "strokeWidth": 1.8},
             "encoding": {
               "x": {"field": "a", "type": "quantitative", "scale": {"domain": [35, 60], "nice": false, "zero": false}, "axis": {"title": "age", "values": [35, 40, 45, 50, 55, 60], "grid": true, "offset": 9}},
               "y": {"field": "v", "type": "quantitative", "scale": {"domain": [-10, 10], "nice": false, "zero": false}, "axis": {"title": "average (residual) skills", "values": [-10, -8, -6, -4, -2, 0, 2, 4, 6, 8, 10], "grid": true, "offset": 9, "labelExpr": "datum.value < 0 ? '-' + format(-datum.value, '') : format(datum.value, '')"}},
               "color": {"field": "s", "type": "nominal", "scale": {"domain": ["u", "n", "l"], "range": ["#E8870E", "#000000", "#1A6E1A"]}, "legend": {"title": null, "labelExpr": "datum.value === 'u' ? 'unemployment ages 18-25' : datum.value === 'n' ? 'numeracy skills' : 'literacy skills'", "encode": {"symbols": {"update": {"shape": {"signal": "datum.value === 'u' ? 'M-1,0H1M-0.13,-0.13H0.13V0.13H-0.13Z' : 'stroke'"}, "fill": {"signal": "datum.value === 'u' ? '#E8870E' : 'transparent'"}, "strokeDash": {"signal": "datum.value === 'l' ? [6, 5] : [1, 0]"}, "strokeWidth": {"signal": "datum.value === 'u' ? 1.4 : 1.8"}}}}}},
               "strokeDash": {"field": "s", "type": "nominal", "scale": {"domain": ["n", "l"], "range": [[1, 0], [7, 4]]}, "legend": null}
             }},
            {"data": {"name": "unemp"}, "transform": [{"filter": "datum.c === 'TR'"}],
             "mark": {"type": "line", "strokeWidth": 1.3, "point": {"filled": true, "shape": "square", "size": 18}},
             "encoding": {
               "x": {"field": "a", "type": "quantitative"},
               "y": {"field": "u", "type": "quantitative", "scale": {"domain": [-1.5, 1.5], "nice": false, "zero": false}, "axis": {"orient": "right", "title": "unemployment (std)", "titleAngle": 270, "titleBaseline": "top", "values": [-1.5, -1, -0.5, 0, 0.5, 1, 1.5], "grid": false, "offset": 9, "labelExpr": "datum.value < 0 ? '-' + replace(format(-datum.value, ''), '0.', '.') : replace(format(datum.value, ''), '0.', '.')"}},
               "color": {"datum": "u"}
             }}
          ],
          "resolve": {"scale": {"y": "independent"}}
        },
        {
          "width": 435, "height": 312,
          "title": {"text": "(e) United Kingdom"},
          "layer": [
            {"data": {"name": "skills"}, "transform": [{"filter": "datum.c === 'UK'"}],
             "mark": {"type": "line", "strokeWidth": 1.8},
             "encoding": {
               "x": {"field": "a", "type": "quantitative", "scale": {"domain": [35, 60], "nice": false, "zero": false}, "axis": {"title": "age", "values": [35, 40, 45, 50, 55, 60], "grid": true, "offset": 9}},
               "y": {"field": "v", "type": "quantitative", "scale": {"domain": [-10, 10], "nice": false, "zero": false}, "axis": {"title": "average (residual) skills", "values": [-10, -8, -6, -4, -2, 0, 2, 4, 6, 8, 10], "grid": true, "offset": 9, "labelExpr": "datum.value < 0 ? '-' + format(-datum.value, '') : format(datum.value, '')"}},
               "color": {"field": "s", "type": "nominal", "scale": {"domain": ["u", "n", "l"], "range": ["#E8870E", "#000000", "#1A6E1A"]}, "legend": {"title": null, "labelExpr": "datum.value === 'u' ? 'unemployment ages 18-25' : datum.value === 'n' ? 'numeracy skills' : 'literacy skills'", "encode": {"symbols": {"update": {"shape": {"signal": "datum.value === 'u' ? 'M-1,0H1M-0.13,-0.13H0.13V0.13H-0.13Z' : 'stroke'"}, "fill": {"signal": "datum.value === 'u' ? '#E8870E' : 'transparent'"}, "strokeDash": {"signal": "datum.value === 'l' ? [6, 5] : [1, 0]"}, "strokeWidth": {"signal": "datum.value === 'u' ? 1.4 : 1.8"}}}}}},
               "strokeDash": {"field": "s", "type": "nominal", "scale": {"domain": ["n", "l"], "range": [[1, 0], [7, 4]]}, "legend": null}
             }},
            {"data": {"name": "unemp"}, "transform": [{"filter": "datum.c === 'UK'"}],
             "mark": {"type": "line", "strokeWidth": 1.3, "point": {"filled": true, "shape": "square", "size": 18}},
             "encoding": {
               "x": {"field": "a", "type": "quantitative"},
               "y": {"field": "u", "type": "quantitative", "scale": {"domain": [-1.5, 1.5], "nice": false, "zero": false}, "axis": {"orient": "right", "title": "unemployment (std)", "titleAngle": 270, "titleBaseline": "top", "values": [-1.5, -1, -0.5, 0, 0.5, 1, 1.5], "grid": false, "offset": 9, "labelExpr": "datum.value < 0 ? '-' + replace(format(-datum.value, ''), '0.', '.') : replace(format(datum.value, ''), '0.', '.')"}},
               "color": {"datum": "u"}
             }}
          ],
          "resolve": {"scale": {"y": "independent"}}
        }
      ],
      "spacing": 195,
      "bounds": "flush",
      "resolve": {"scale": {"color": "independent", "strokeDash": "independent"}, "legend": {"color": "independent", "strokeDash": "independent"}}
    }
  ]
}
